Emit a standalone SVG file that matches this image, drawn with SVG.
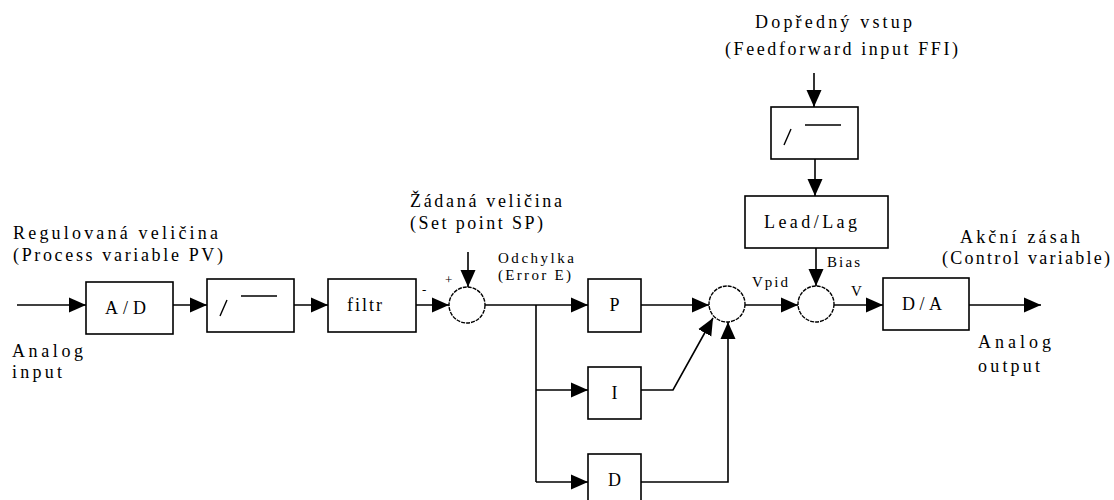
<svg xmlns="http://www.w3.org/2000/svg" width="1114" height="500" viewBox="0 0 1114 500">
  <defs>
    <marker id="arr" markerUnits="userSpaceOnUse" markerWidth="17" markerHeight="16" viewBox="0 0 17 16" refX="17" refY="8" orient="auto">
      <path d="M0,0.5 L17,8 L0,15.5 Z" fill="#000"/>
    </marker>
  </defs>
  <style>
    .box { fill: #fff; stroke: #000; stroke-width: 1.6; }
    .sum { fill: #fff; stroke: #000; stroke-width: 1.4; stroke-dasharray: 4 1; }
    .wire { fill: none; stroke: #000; stroke-width: 1.6; }
    .sym { fill: none; stroke: #000; stroke-width: 1.4; }
    text { font-family: 'Liberation Serif', 'DejaVu Serif', 'Times New Roman', serif; fill: #000; }
    .lbl { font-size: 18px; }
    .blk { font-size: 18px; }
    .sm { font-size: 15px; }
    .pm { font-size: 13px; }
  </style>

  <!-- connectors -->
  <g id="connectors">
    <path class="wire" d="M17,305 H86" marker-end="url(#arr)"/>
    <path class="wire" d="M173,305 H207" marker-end="url(#arr)"/>
    <path class="wire" d="M294,305 H328" marker-end="url(#arr)"/>
    <path class="wire" d="M416,305 H449" marker-end="url(#arr)"/>
    <path class="wire" d="M468,252 V287" marker-end="url(#arr)"/>
    <path class="wire" d="M485,305 H588" marker-end="url(#arr)"/>
    <path class="wire" d="M536,305 V482"/>
    <path class="wire" d="M536,390 H588" marker-end="url(#arr)"/>
    <path class="wire" d="M536,482 H588" marker-end="url(#arr)"/>
    <path class="wire" d="M641,305 H709" marker-end="url(#arr)"/>
    <path class="wire" d="M641,390 H673 L713,318" marker-end="url(#arr)"/>
    <path class="wire" d="M641,482 H728 V322" marker-end="url(#arr)"/>
    <path class="wire" d="M745,305 H798" marker-end="url(#arr)"/>
    <path class="wire" d="M814,73 V107" marker-end="url(#arr)"/>
    <path class="wire" d="M815,159 V196" marker-end="url(#arr)"/>
    <path class="wire" d="M816,248 V286" marker-end="url(#arr)"/>
    <path class="wire" d="M834,305 H883" marker-end="url(#arr)"/>
    <path class="wire" d="M969,305 H1041" marker-end="url(#arr)"/>
  </g>

  <!-- blocks -->
  <g id="ad">
    <rect class="box" x="86" y="282" width="87" height="52"/>
    <text class="blk" x="105" y="314" textLength="41" lengthAdjust="spacing">A/D</text>
  </g>
  <g id="sqrt-pv">
    <rect class="box" x="207" y="279" width="87" height="53"/>
    <path class="sym" d="M220,316 L227,300 M241,296 H277"/>
  </g>
  <g id="filtr">
    <rect class="box" x="328" y="279" width="88" height="53"/>
    <text class="blk" x="347" y="311" textLength="35" lengthAdjust="spacing">filtr</text>
  </g>
  <g id="sum-error">
    <circle class="sum" cx="467" cy="305" r="18"/>
    <text class="pm" x="422" y="294">-</text>
    <text class="pm" x="445" y="284">+</text>
  </g>
  <g id="p">
    <rect class="box" x="588" y="279" width="53" height="53"/>
    <text class="blk" x="614.5" y="311" text-anchor="middle">P</text>
  </g>
  <g id="i">
    <rect class="box" x="588" y="367" width="53" height="52"/>
    <text class="blk" x="614.5" y="399" text-anchor="middle">I</text>
  </g>
  <g id="d">
    <rect class="box" x="588" y="454" width="53" height="52"/>
    <text class="blk" x="614.5" y="486" text-anchor="middle">D</text>
  </g>
  <g id="sum-pid">
    <circle class="sum" cx="727" cy="304" r="18"/>
  </g>
  <g id="sqrt-ffi">
    <rect class="box" x="771" y="107" width="87" height="52"/>
    <path class="sym" d="M784,145 L791,129 M805,125 H841"/>
  </g>
  <g id="leadlag">
    <rect class="box" x="745" y="196" width="143" height="52"/>
    <text class="blk" x="764" y="228" textLength="93" lengthAdjust="spacing">Lead/Lag</text>
  </g>
  <g id="sum-bias">
    <circle class="sum" cx="816" cy="304" r="18"/>
  </g>
  <g id="da">
    <rect class="box" x="883" y="278" width="86" height="52"/>
    <text class="blk" x="902" y="310" textLength="40" lengthAdjust="spacing">D/A</text>
  </g>

  <!-- labels -->
  <g id="labels">
    <text class="lbl" x="13" y="239" textLength="205" lengthAdjust="spacing">Regulovaná veličina</text>
    <text class="lbl" x="13" y="261" textLength="210" lengthAdjust="spacing">(Process variable PV)</text>
    <text class="lbl" x="12" y="357" textLength="71" lengthAdjust="spacing">Analog</text>
    <text class="lbl" x="12" y="378" textLength="50" lengthAdjust="spacing">input</text>
    <text class="lbl" x="410" y="207" textLength="152" lengthAdjust="spacing">Žádaná veličina</text>
    <text class="lbl" x="410" y="229" textLength="133" lengthAdjust="spacing">(Set point SP)</text>
    <text class="sm" x="498" y="263" textLength="76" lengthAdjust="spacing">Odchylka</text>
    <text class="sm" x="498" y="280" textLength="73" lengthAdjust="spacing">(Error E)</text>
    <text class="sm" x="752" y="287" textLength="36" lengthAdjust="spacing">Vpid</text>
    <text class="sm" x="851" y="296">V</text>
    <text class="sm" x="827" y="267" textLength="33" lengthAdjust="spacing">Bias</text>
    <text class="lbl" x="755" y="28" textLength="157" lengthAdjust="spacing">Dopředný vstup</text>
    <text class="lbl" x="725" y="55" textLength="233" lengthAdjust="spacing">(Feedforward input FFI)</text>
    <text class="lbl" x="960" y="243" textLength="120" lengthAdjust="spacing">Akční zásah</text>
    <text class="lbl" x="942" y="264" textLength="168" lengthAdjust="spacing">(Control variable)</text>
    <text class="lbl" x="978" y="348" textLength="73" lengthAdjust="spacing">Analog</text>
    <text class="lbl" x="978" y="372" textLength="62" lengthAdjust="spacing">output</text>
  </g>
</svg>
